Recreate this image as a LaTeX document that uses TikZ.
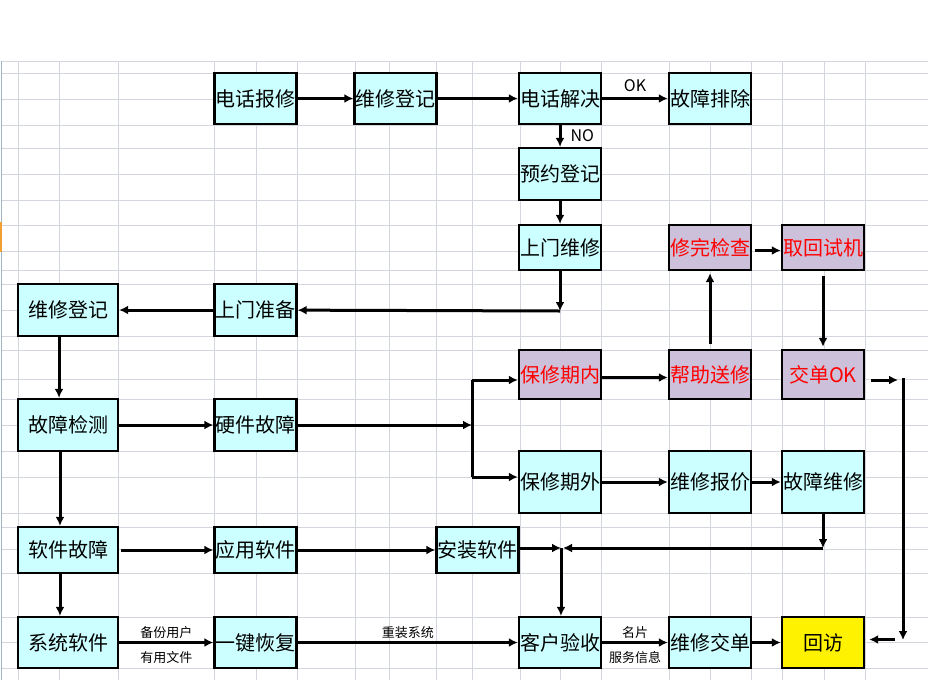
\documentclass[tikz,border=0pt]{standalone}
\usepackage{fontspec}
\setmainfont{Noto Sans CJK SC}
\usetikzlibrary{arrows.meta}
\definecolor{boxcyan}{HTML}{CCFFFF}
\definecolor{boxlilac}{HTML}{CCC0DA}
\definecolor{gridgray}{HTML}{D4D6DE}
\definecolor{edgeblue}{HTML}{A0B4C8}
\definecolor{markorange}{HTML}{F0A030}

\begin{document}
\begin{tikzpicture}[x=1pt,y=-1pt,
  box/.style={draw,line width=2.4pt,fill=boxcyan,minimum width=82pt,minimum height=51pt,inner sep=0pt,font=\fontsize{20}{21}\selectfont},
  wide/.style={minimum width=100pt},
  lilac/.style={fill=boxlilac,text=red},
  arr/.style={line width=3pt,-{Latex[length=9pt,width=9pt]}},
  bar/.style={line width=3pt},
  lbl/.style={font=\fontsize{13}{14}\selectfont,inner sep=0pt},
  okno/.style={font=\fontsize{16}{17}\selectfont,inner sep=0pt}]
\useasboundingbox (0,0) rectangle (928,680);
\fill[white] (0,0) rectangle (928,680);

\foreach \gy in {61,73,99,125,148,174,200,225,251,270,284,310,336,350,379,399,425,451,477,513,527,549,573,617,642,668}
  \draw[gridgray,line width=0.8pt] (1,\gy) -- (928,\gy);
\foreach \gx in {18,59,118,214,256,297,355,389,436,472,520,560,601,669,710,751,782,824,865}
  \draw[gridgray,line width=0.8pt] (\gx,61) -- (\gx,680);
\draw[edgeblue,line width=1pt] (1,61) -- (1,680);
\fill[markorange] (0,222) rectangle (1.5,252);

\node[box] (dhbx) at (255.5,98.5) {电话报修};
\node[box] (wxdj) at (395.5,98.5) {维修登记};
\node[box] (dhjj) at (560,98.5) {电话解决};
\node[box] (gzpc) at (710,98.5) {故障排除};
\node[box,minimum height=52pt] (yydj) at (560,174) {预约登记};
\node[box,minimum height=45pt] (smwx) at (560,247.5) {上门维修};
\node[box,lilac,minimum height=45pt] (wwjc) at (710,247.5) {修完检查};
\node[box,lilac,minimum height=45pt] (qhsj) at (823,247.5) {取回试机};
\node[box,wide,minimum height=52pt] (wxdjb) at (68,310) {维修登记};
\node[box,minimum height=52pt] (smzb) at (255.5,310) {上门准备};
\node[box,lilac,minimum height=49pt] (bxqn) at (560,374.5) {保修期内};
\node[box,lilac,minimum height=49pt] (bzsx) at (710,374.5) {帮助送修};
\node[box,lilac,minimum height=49pt] (jdok) at (823,374.5) {交单OK};
\node[box,wide,minimum height=52pt] (gzjc) at (68,425) {故障检测};
\node[box,minimum height=52pt] (yjgz) at (255.5,425) {硬件故障};
\node[box,minimum height=62pt] (bxqw) at (560,482) {保修期外};
\node[box,minimum height=62pt] (wxbj) at (710,482) {维修报价};
\node[box,minimum height=62pt] (gzwx) at (823,482) {故障维修};
\node[box,wide,minimum height=46pt] (rjgz) at (68,550) {软件故障};
\node[box,minimum height=46pt] (yyrj) at (255.5,550) {应用软件};
\node[box,minimum height=46pt] (azrj) at (477.5,550) {安装软件};
\node[box,wide] (xtrj) at (68,642.5) {系统软件};
\node[box] (yjhf) at (255.5,642.5) {一键恢复};
\node[box] (khys) at (560,642.5) {客户验收};
\node[box] (wxjd) at (710,642.5) {维修交单};
\node[box,fill=yellow] (hf) at (823,642.5) {回访};

\coordinate (smc) at (560,311);
\coordinate (hwj) at (472,425);
\coordinate (bxt) at (472,380);
\coordinate (bxb) at (472,477);
\coordinate (okr) at (898,380);
\coordinate (rtop) at (903,378);
\coordinate (rbot) at (903,640);
\coordinate (hfr) at (895,639.5);
\coordinate (wxc) at (823,548);
\coordinate (azc) at (561,548);

\draw[arr] (dhbx) -- (wxdj);
\draw[arr] (wxdj) -- (dhjj);
\draw[arr] (dhjj) -- node[okno,above=5pt] {OK} (gzpc);
\draw[arr] (dhjj) -- node[okno,right=9pt] {NO} (yydj);
\draw[arr] (yydj) -- (smwx);
\draw[arr] (smwx) -- (smc);
\draw[arr] (smc) -- (smzb);
\draw[arr] (smzb) -- (wxdjb);
\draw[arr] ([xshift=-9pt]wxdjb.south) -- ([xshift=-9pt]gzjc.north);
\draw[arr] (gzjc) -- (yjgz);
\draw[arr] (yjgz) -- (hwj);
\draw[bar] (bxt) -- (bxb);
\draw[arr] (bxt) -- (bxt -| bxqn.west);
\draw[arr] (bxb) -- (bxb -| bxqw.west);
\draw[arr] ([yshift=-3pt]bxqn.east) -- ([yshift=-3pt]bzsx.west);
\draw[arr] ([yshift=5pt]bzsx.north) -- ([yshift=-2pt]wwjc.south);
\draw[arr] ([xshift=3pt,yshift=-3pt]wwjc.east) -- ([yshift=-3pt]qhsj.west);
\draw[arr] ([yshift=-5pt]qhsj.south) -- ([yshift=2pt]jdok.north);
\draw[arr] ([xshift=6pt,yshift=-5.5pt]jdok.east) -- (okr);
\draw[arr] (rtop) -- (rbot);
\draw[arr] (hfr) -- ([xshift=4pt,yshift=3pt]hf.east);
\draw[arr] (bxqw) -- (wxbj);
\draw[arr] (wxbj) -- (gzwx);
\draw[arr] (gzwx) -- (wxc);
\draw[arr] (wxc) -- ([xshift=2pt]azc);
\draw[arr] ([yshift=2pt]azrj.east) -- (azc);
\draw[arr] (azc) -- (azc |- khys.north);
\draw[arr] ([xshift=-8pt]gzjc.south) -- ([xshift=-8pt]rjgz.north);
\draw[arr] ([xshift=-8pt]rjgz.south) -- ([xshift=-8pt]xtrj.north);
\draw[arr] ([xshift=2pt]rjgz.east) -- (yyrj);
\draw[arr] (yyrj) -- (azrj);
\draw[arr] (xtrj) -- node[lbl,above=2pt] {备份用户} node[lbl,below=7pt] {有用文件} (yjhf);
\draw[arr] (yjhf) -- node[lbl,above=2pt] {重装系统} (khys);
\draw[arr] (khys) -- node[lbl,above=2pt] {名片} node[lbl,below=7pt] {服务信息} (wxjd);
\draw[arr] (wxjd) -- (hf);
\end{tikzpicture}
\end{document}
